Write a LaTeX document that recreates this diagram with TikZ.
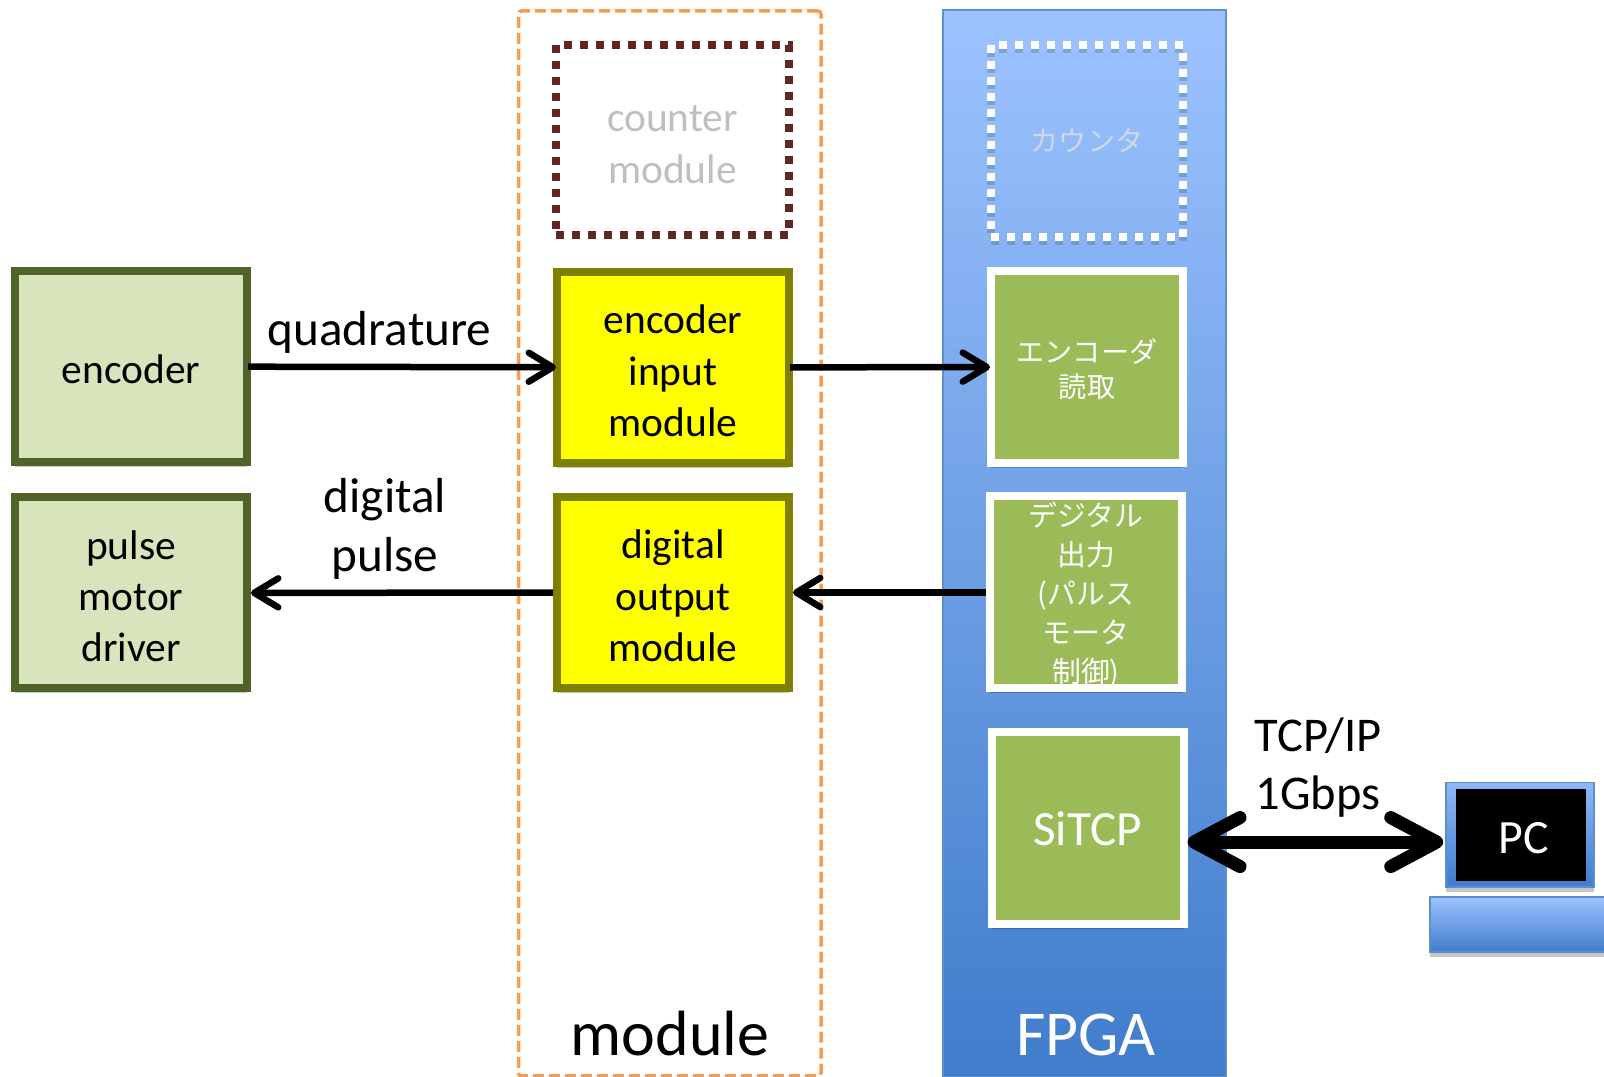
\documentclass[tikz,border=0pt]{standalone}
\usepackage{fontspec}
\setmainfont{Carlito}
\newfontfamily\jpfont{Noto Sans CJK JP}
\usetikzlibrary{arrows.meta,shadows}
\definecolor{drivefill}{HTML}{D8E4BC}
\definecolor{driveline}{HTML}{4F6228}
\definecolor{modfill}{HTML}{FFFF00}
\definecolor{modline}{HTML}{808000}
\definecolor{fpgagreen}{HTML}{9BBB59}
\definecolor{fpgatop}{HTML}{9DC3FF}
\definecolor{fpgabot}{HTML}{3F7CCB}
\definecolor{fpgaline}{HTML}{5B8FD0}
\definecolor{dashorange}{HTML}{FA9A4C}
\definecolor{dotred}{HTML}{632523}
\definecolor{kanagrey}{HTML}{CFD9E8}
\tikzset{
    softshadow/.style={drop shadow={shadow xshift=0cm, shadow yshift=-0.05cm, fill=black, opacity=0.22}},
    topstrut/.style={execute at begin node={\rule{0pt}{#1}}},
    boxtext/.style={align=center, inner sep=0pt, font=\fontsize{11.8}{14.6}\selectfont},
    labeltext/.style={align=center, inner sep=0pt, font=\fontsize{14}{16.7}\selectfont},
    jptext/.style={align=center, inner sep=0pt, font=\jpfont\fontsize{8}{10}\selectfont},
    drivebox/.style={boxtext, draw=driveline, fill=drivefill, line width=0.08cm, minimum width=2.32cm, minimum height=1.91cm, softshadow},
    modbox/.style={boxtext, draw=modline, fill=modfill, line width=0.08cm, minimum width=2.32cm, minimum height=1.91cm, softshadow, topstrut=1.38cm},
    fpgabox/.style={jptext, text=white, draw=white, fill=fpgagreen, line width=0.08cm, minimum width=1.92cm, minimum height=1.92cm, softshadow},
    dotbox/.style={line width=0.08cm, dash pattern=on 0.08cm off 0.08cm},
    wire/.style={line width=0.065cm, -{Straight Barb[length=0.24cm, width=0.29cm, round]}},
    biglink/.style={line width=0.13cm, {Straight Barb[length=0.46cm, width=0.49cm, round]}-{Straight Barb[length=0.46cm, width=0.49cm, round]}}
}
\begin{document}
\begin{tikzpicture}
    \useasboundingbox (0, 0) rectangle (16.04, 10.77);
    \clip (0, 0) rectangle (16.04, 10.77);

    % Columns
    \node[draw=dashorange, dashed, dash pattern=on 0.11cm off 0.05cm, line width=0.035cm, rounded corners=0.03cm, minimum width=3.025cm, minimum height=10.65cm, inner sep=0pt] (modcol) at (6.6975, 5.335) {};
    \node[draw=fpgaline, line width=0.015cm, top color=fpgatop, bottom color=fpgabot, minimum width=2.83cm, minimum height=10.67cm, inner sep=0pt] (fpgacol) at (10.845, 5.335) {};
    \node[text=white, font=\fontsize{18.2}{20}\selectfont, inner sep=0pt] (fpgalabel) at (10.86, 0.42) {FPGA};
    \node[font=\fontsize{18.2}{20}\selectfont, inner sep=0pt] (modlabel) at (6.70, 0.43) {module};

    % Left side
    \node[drivebox, topstrut=0.353cm] (encoder) at (1.31, 7.105) {encoder};
    \node[drivebox, topstrut=1.38cm] (driver) at (1.31, 4.84) {pulse\\motor\\driver};

    % Module column
    \node[boxtext, topstrut=0.865cm, text=black!25, draw=dotred, dotbox, minimum width=2.33cm, minimum height=1.90cm] (counter) at (6.725, 9.37) {counter\\module};
    \node[modbox] (einput) at (6.73, 7.095) {encoder\\input\\module};
    \node[modbox] (doutput) at (6.73, 4.845) {digital\\output\\module};

    % FPGA column
    \node[jptext, text=kanagrey, draw=white, dotbox, minimum width=1.92cm, minimum height=1.92cm, preaction={draw=black, opacity=0.15, transform canvas={yshift=-0.04cm}}] (kcounter) at (10.87, 9.36) {カウンタ};
    \node[fpgabox, topstrut=0.64cm] (eread) at (10.87, 7.10) {エンコーダ\\読取};
    \node[fpgabox, topstrut=1.86cm, font=\jpfont\fontsize{8.2}{11.1}\selectfont] (dread) at (10.86, 4.845) {デジタル\\出力\\(パルス\\モータ\\制御)};
    \node[fpgabox, topstrut=0.36cm, font=\fontsize{14}{16}\selectfont] (sitcp) at (10.875, 2.49) {SiTCP};

    % PC
    \node[draw=fpgaline, line width=0.015cm, top color=fpgatop!85!fpgabot, bottom color=fpgabot, minimum width=1.48cm, minimum height=1.045cm, inner sep=0pt, softshadow] (pcframe) at (15.2, 2.42) {};
    \node[fill=black, text=white, topstrut=0.37cm, font=\fontsize{13.6}{14}\selectfont, minimum width=1.30cm, minimum height=0.92cm, inner sep=0pt] (pc) at (15.21, 2.42) {\hspace*{0.06cm}PC};
    \node[draw=fpgaline, line width=0.015cm, top color=fpgatop, bottom color=fpgabot, minimum width=1.8cm, minimum height=0.55cm, inner sep=0pt, softshadow] (pcbase) at (15.2, 1.525) {};

    % Signals
    \draw[wire, shorten >=-0.03cm, shorten <=-0.03cm] (encoder) -- (einput);
    \draw[wire, shorten >=-0.03cm, shorten <=-0.03cm] (einput) -- (eread);
    \draw[wire] (dread) -- (doutput);
    \draw[wire] (doutput) -- (driver);
    \draw[biglink, shorten >=0.02cm] (sitcp.-8) -- (sitcp.-8 -| pcframe.west);

    % Signal labels
    \node[labeltext] (quadlabel) at (3.795, 7.45) {quadrature};
    \node[labeltext] (pulselabel) at (3.85, 5.48) {digital\\pulse};
    \node[labeltext, font=\fontsize{13.8}{16.5}\selectfont] (linklabel) at (13.18, 3.09) {TCP/IP\\1Gbps};
\end{tikzpicture}
\end{document}
